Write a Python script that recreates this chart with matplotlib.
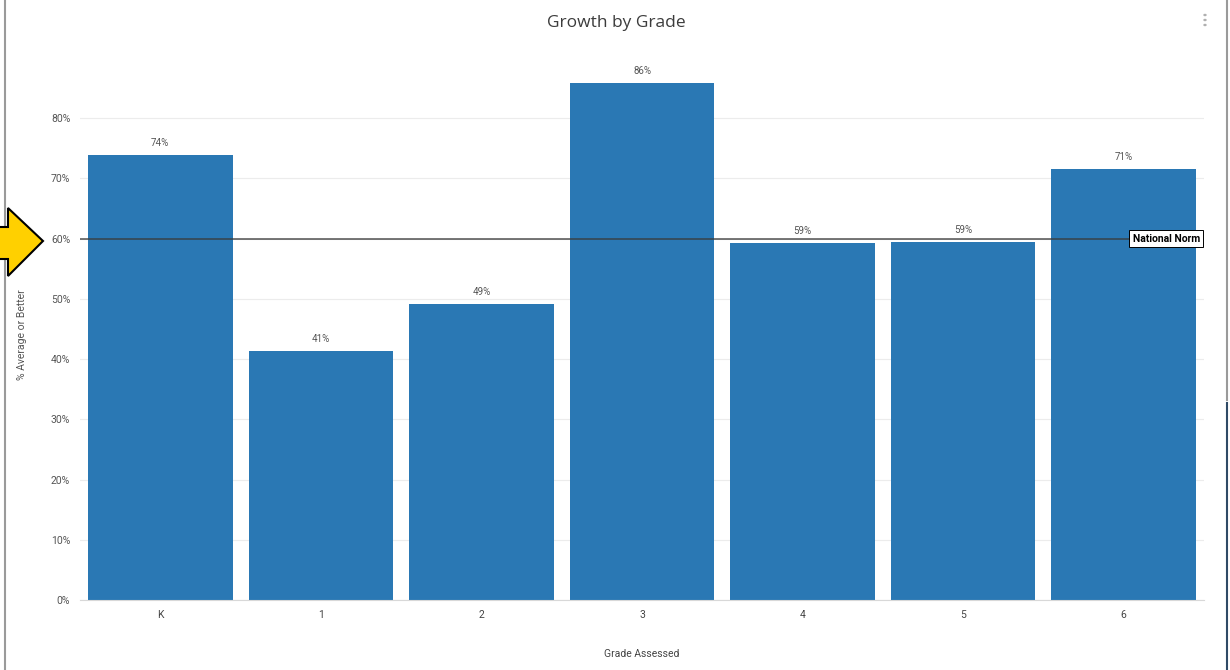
import matplotlib
matplotlib.use("Agg")
import matplotlib.pyplot as plt
from matplotlib.patches import Polygon, Circle
from matplotlib.lines import Line2D

grades = ["K", "1", "2", "3", "4", "5", "6"]
pct = [74, 41, 49, 86, 59, 59, 71]
bar_tops = [73.9, 41.3, 49.1, 85.8, 59.2, 59.5, 71.5]
national_norm = 60
yticks = [0, 10, 20, 30, 40, 50, 60, 70, 80]

plt.rcParams['font.family'] = ['Roboto', 'DejaVu Sans']

fig = plt.figure(figsize=(12.3, 6.7), dpi=100)
ax = fig.add_axes([80/1230, 70/670, 1124/1230, 0.7913])

x = list(range(len(grades)))
ax.bar(x, bar_tops, width=0.9, color="#2a78b4", zorder=2)
ax.set_xlim(-0.5, len(grades) - 0.5)
ax.set_ylim(0, 88)
ax.set_yticks(yticks)
ax.set_yticklabels([f"{v}%" for v in yticks], fontsize=7.5, color="#555555")
ax.set_xticks(x)
ax.set_xticklabels(grades, fontsize=7.5, color="#444444")
ax.tick_params(axis="both", length=0, pad=7)
ax.grid(axis="y", color="#ececec", lw=0.8, zorder=0)
for s in ["top", "right", "left"]:
    ax.spines[s].set_visible(False)
ax.spines["bottom"].set_color("#d8d8d8")
ax.spines["bottom"].set_linewidth(0.8)

for xi, top, p in zip(x, bar_tops, pct):
    ax.annotate(f"{p}%", (xi, top), xytext=(0, 5), textcoords="offset points",
                ha="center", va="bottom", fontsize=7, color="#555555")

ax.axhline(national_norm, color="#3a3a3a", lw=1.3, alpha=0.75, zorder=3)
ax.annotate("National Norm", (len(grades) - 0.5, national_norm), xytext=(-3, 0),
            textcoords="offset points", ha="right", va="center", fontsize=7.5,
            fontweight="bold", color="black", zorder=5,
            bbox=dict(boxstyle="square,pad=0.3", fc="white", ec="black", lw=0.7))

ax.set_ylabel("% Average or Better", fontsize=7.5, color="#555555", labelpad=17)
ax.set_xlabel("Grade Assessed", fontsize=7.5, color="#444444", labelpad=21)

fig.text(616/1230, 1 - 23/670, "Growth by Grade", ha="center", va="center",
         fontsize=12.5, color="#3c3c3c", family=["Open Sans", "DejaVu Sans"])
# menu dots
for yy in (15, 20, 25):
    fig.patches.append(Circle((1205/1230, 1 - yy/670), 0.0008,
                       transform=fig.transFigure, color="#b0b0b0"))

# frame lines
fig.add_artist(Line2D([5/1230, 5/1230], [0, 1], color="#9a9a9a", lw=1.5))
fig.add_artist(Line2D([1227/1230, 1227/1230], [1 - 400/670, 1], color="#9a9a9a", lw=1.5))
fig.add_artist(Line2D([1227/1230, 1227/1230], [0, 1 - 403/670], color="#2f4a66", lw=1.5))

# yellow arrow
pts = [(-5, 227), (8, 227), (8, 208), (43, 241), (8, 276), (8, 259), (-5, 259)]
arrow = Polygon([(px/1230, 1 - py/670) for px, py in pts], closed=True,
                transform=fig.transFigure, fc="#ffd000", ec="black", lw=1.5, zorder=10)
fig.patches.append(arrow)

fig.savefig("out.png", dpi=100)
